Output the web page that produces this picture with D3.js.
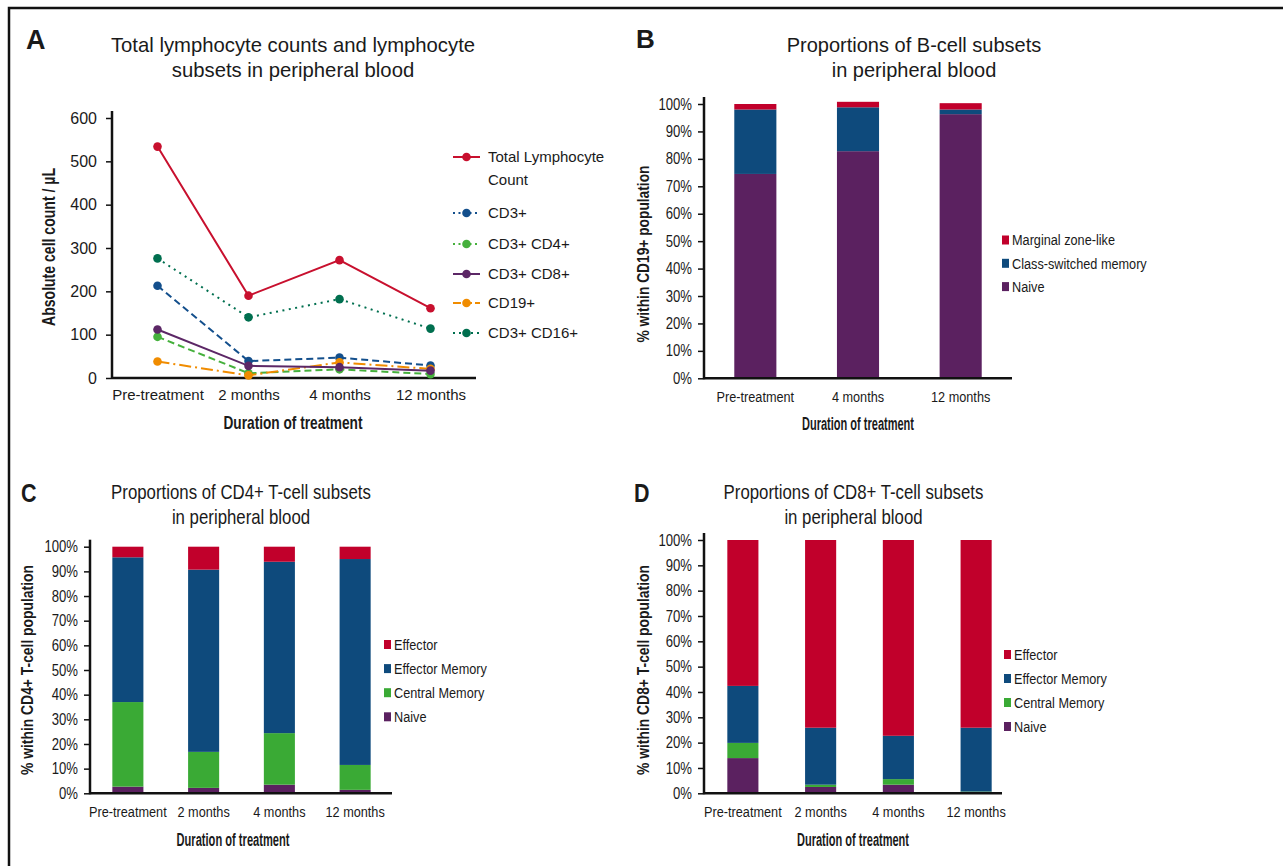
<html>
<head>
<meta charset="utf-8">
<style>
  html, body { margin: 0; padding: 0; background: #ffffff; }
  svg { display: block; }
  text { fill: #1a1a1a; }
  .reg, .nar { font-family: "Liberation Sans", Arial, sans-serif; }
  .axis path, .axis line { stroke: #111; }
</style>
</head>
<body>
<svg id="chart" width="1283" height="866"></svg>

<script src="https://cdnjs.cloudflare.com/ajax/libs/d3/7.8.5/d3.min.js"></script>
<script>
// ---- data: panel A (absolute counts / uL)
var catsA = ["Pre-treatment", "2 months", "4 months", "12 months"];
var totalLymph = [534, 190, 272, 161];
var cd3 = [213, 39, 47, 29];
var cd3cd4 = [95, 11, 20, 9];
var cd3cd8 = [112, 28, 25, 17];
var cd19 = [38, 6, 36, 21];
var cd3cd16 = [276, 140, 182, 114];
var ticksA = [0, 100, 200, 300, 400, 500, 600];

// ---- data: panel B (B-cell subsets, %)
var catsB = ["Pre-treatment", "4 months", "12 months"];
var bNaive = [74.5, 82.8, 96.3];
var bSwitched = [23.5, 16.0, 1.7];
var bMarginal = [2.0, 2.0, 2.3];

// ---- data: panel C (CD4+ subsets, %)
var catsC = ["Pre-treatment", "2 months", "4 months", "12 months"];
var cNaive = [2.7, 2.2, 3.5, 1.4];
var cCentral = [34.3, 14.6, 20.9, 10.1];
var cEffMem = [58.7, 73.9, 69.5, 83.5];
var cEffector = [4.3, 9.3, 6.1, 5.0];

// ---- data: panel D (CD8+ subsets, %)
var catsD = ["Pre-treatment", "2 months", "4 months", "12 months"];
var dNaive = [13.9, 2.5, 3.4, 0.2];
var dCentral = [6.0, 0.9, 2.2, 0.5];
var dEffMem = [22.5, 22.5, 17.1, 25.2];
var dEffector = [57.6, 74.1, 77.3, 74.1];

var pctTicks = [0, 10, 20, 30, 40, 50, 60, 70, 80, 90, 100];

var RED = "#c1002b", BLUE = "#0e4a7c", GREEN = "#3aaa35", PURPLE = "#5b2160";
var NARROW = 0.82;

var svg = d3.select("#chart");

// no narrow face installed: squeeze text horizontally around its anchor
function condense(sel, f) {
    sel.each(function () {
        var t = d3.select(this);
        var x = +t.attr("x") || 0, y = +t.attr("y") || 0;
        t.attr("transform", "translate(" + x + "," + y + ") scale(" + f + ",1) translate(" + (-x) + "," + (-y) + ")");
    });
}

// frame (top + left only)
svg.append("path")
    .attr("d", "M9,866V8H1283")
    .attr("fill", "none")
    .attr("stroke", "#111")
    .attr("stroke-width", 2.5);

function letter(t, x, y, size, f) {
    var el = svg.append("text").attr("class", "reg")
        .attr("x", x).attr("y", y)
        .style("font-size", size + "px").style("font-weight", "bold")
        .text(t);
    if (f) condense(el, f);
}

function title(lines, x, y, size, f) {
    lines.forEach(function (l, i) {
        var el = svg.append("text").attr("class", "reg")
            .attr("x", x).attr("y", y + i * 25)
            .attr("text-anchor", "middle")
            .style("font-size", size + "px")
            .text(l);
        if (f) condense(el, f);
    });
}

function yAxis(scale, x, ticks, fmt, size, f, topExt, pad) {
    var g = svg.append("g").attr("class", "axis")
        .attr("transform", "translate(" + x + ",0)")
        .call(d3.axisLeft(scale).tickValues(ticks).tickFormat(fmt).tickSize(6).tickPadding(pad).tickSizeOuter(0));
    g.select(".domain").remove();
    g.selectAll(".tick line").attr("stroke-width", 1.5);
    var tt = g.selectAll(".tick text").attr("class", "reg").style("font-size", size + "px").attr("fill", "#1a1a1a");
    if (f) condense(tt, f);
    var r = scale.range();
    g.append("line").attr("x1", 0).attr("x2", 0)
        .attr("y1", r[1] - topExt).attr("y2", r[0] + 1)
        .attr("stroke", "#111").attr("stroke-width", 2.5);
}

function xAxis(scale, y, x0, x1, size, f, dy) {
    var g = svg.append("g").attr("class", "axis")
        .attr("transform", "translate(0," + y + ")")
        .call(d3.axisBottom(scale).tickSize(0).tickPadding(dy));
    g.select(".domain").remove();
    var tt = g.selectAll(".tick text").attr("class", "reg").style("font-size", size + "px").attr("fill", "#1a1a1a");
    if (f) condense(tt, f);
    g.append("line").attr("x1", x0).attr("x2", x1)
        .attr("y1", 0).attr("y2", 0)
        .attr("stroke", "#111").attr("stroke-width", 2.5);
}

function axisTitle(t, x, y, size, len, rotate) {
    var el = svg.append("text").attr("class", "nar")
        .attr("text-anchor", "middle")
        .style("font-size", size + "px").style("font-weight", "bold")
        .attr("textLength", len).attr("lengthAdjust", "spacingAndGlyphs")
        .text(t);
    if (rotate) el.attr("transform", "translate(" + x + "," + y + ") rotate(-90)");
    else el.attr("x", x).attr("y", y);
}

//----------- PANEL A ------------//
letter("A", 26, 49, 27);
title(["Total lymphocyte counts and lymphocyte", "subsets in peripheral blood"], 293, 52, 20.3);

var xA = d3.scalePoint().domain(catsA).range([112, 476]).padding(0.5);
var yA = d3.scaleLinear().domain([0, 600]).range([378, 118]);

yAxis(yA, 112, ticksA, d3.format("d"), 16, null, 7, 9);
xAxis(xA, 378, 112, 476, 15, null, 11);
axisTitle("Duration of treatment", 293, 429, 18.5, 139, false);
axisTitle("Absolute cell count / µL", 55, 247, 19, 158, true);

var seriesA = [
    { name: "CD3+ CD16+", values: cd3cd16, color: "#006f4f", dash: "2,4.5", ldash: "2,4", legend: ["CD3+ CD16+"], ly: 333 },
    { name: "CD3+", values: cd3, color: "#134f8c", dash: "7,4", ldash: "2,3.5", legend: ["CD3+"], ly: 213 },
    { name: "CD3+ CD4+", values: cd3cd4, color: "#45b03c", dash: "7,4", ldash: "2,3.5", legend: ["CD3+ CD4+"], ly: 244 },
    { name: "CD19+", values: cd19, color: "#f08c00", dash: "12,4,2,4", ldash: "8,3", legend: ["CD19+"], ly: 303 },
    { name: "CD3+ CD8+", values: cd3cd8, color: "#5c2766", dash: null, ldash: null, legend: ["CD3+ CD8+"], ly: 274 },
    { name: "Total Lymphocyte Count", values: totalLymph, color: "#c8102e", dash: null, ldash: null, legend: ["Total Lymphocyte", "Count"], ly: 157 }
];

var line = d3.line()
    .x(function (d, i) { return xA(catsA[i]); })
    .y(function (d) { return yA(d); });

seriesA.forEach(function (s) {
    svg.append("path")
        .attr("d", line(s.values))
        .attr("fill", "none")
        .attr("stroke", s.color)
        .attr("stroke-width", 2)
        .attr("stroke-dasharray", s.dash);
    svg.selectAll(null).data(s.values).enter().append("circle")
        .attr("cx", function (d, i) { return xA(catsA[i]); })
        .attr("cy", function (d) { return yA(d); })
        .attr("r", 4.3)
        .attr("fill", s.color);

    // legend entry
    svg.append("line")
        .attr("x1", 453).attr("x2", 480)
        .attr("y1", s.ly).attr("y2", s.ly)
        .attr("stroke", s.color).attr("stroke-width", 2)
        .attr("stroke-dasharray", s.ldash);
    svg.append("circle").attr("cx", 466.5).attr("cy", s.ly).attr("r", 4.3).attr("fill", s.color);
    s.legend.forEach(function (t, i) {
        svg.append("text").attr("class", "reg")
            .attr("x", 488).attr("y", s.ly + 5 + i * 23)
            .style("font-size", "15px")
            .text(t);
    });
});

//----------- STACKED PANELS ------------//
function stackedPanel(cfg) {
    var rows = cfg.cats.map(function (c, i) {
        var r = { cat: c };
        cfg.series.forEach(function (s) { r[s.key] = s.values[i]; });
        return r;
    });
    var keys = cfg.series.map(function (s) { return s.key; });
    var stacked = d3.stack().keys(keys)(rows);

    var x = d3.scaleBand().domain(cfg.cats).range([cfg.x0, cfg.x1]).paddingInner(cfg.pad).paddingOuter(cfg.pad / 2);
    var y = d3.scaleLinear().domain([0, 100]).range([cfg.y0, cfg.y100]);

    stacked.forEach(function (layer, li) {
        svg.selectAll(null).data(layer).enter().append("rect")
            .attr("x", function (d) { return x(d.data.cat); })
            .attr("width", x.bandwidth())
            .attr("y", function (d) { return y(d[1]); })
            .attr("height", function (d) { return y(d[0]) - y(d[1]); })
            .attr("fill", cfg.series[li].color);
    });

    yAxis(y, cfg.x0, pctTicks, function (d) { return d + "%"; }, 16, NARROW, cfg.topExt, 6);
    xAxis(x, cfg.y0, cfg.x0, cfg.axisEnd, 15.5, NARROW, 12.5);

    // legend, top entry is the last stacked series
    var legendOrder = cfg.series.slice().reverse();
    legendOrder.forEach(function (s, i) {
        var ly = cfg.legendY + i * cfg.legendStep;
        svg.append("rect")
            .attr("x", cfg.legendX).attr("y", ly - 4.5)
            .attr("width", 7).attr("height", 9)
            .attr("fill", s.color);
        var el = svg.append("text").attr("class", "reg")
            .attr("x", cfg.legendX + 10).attr("y", ly + 5.5)
            .style("font-size", "15.5px")
            .text(s.label);
        condense(el, NARROW);
    });
}

//----------- PANEL B ------------//
letter("B", 636, 48, 26);
title(["Proportions of B-cell subsets", "in peripheral blood"], 914, 52, 20);
stackedPanel({
    cats: catsB,
    series: [
        { key: "naive", label: "Naive", values: bNaive, color: PURPLE },
        { key: "switched", label: "Class-switched memory", values: bSwitched, color: BLUE },
        { key: "marginal", label: "Marginal zone-like", values: bMarginal, color: RED }
    ],
    x0: 704, x1: 1012, axisEnd: 1012, pad: 0.59,
    y0: 378.3, y100: 104, topExt: 7,
    legendX: 1002, legendY: 240, legendStep: 23.3
});
axisTitle("Duration of treatment", 858, 430, 17.5, 112, false);
axisTitle("% within CD19+ population", 649, 254, 17, 177, true);

//----------- PANEL C ------------//
letter("C", 21, 502, 25, 0.86);
title(["Proportions of CD4+ T-cell subsets", "in peripheral blood"], 241, 499, 20.5, NARROW);
stackedPanel({
    cats: catsC,
    series: [
        { key: "naive", label: "Naive", values: cNaive, color: PURPLE },
        { key: "central", label: "Central Memory", values: cCentral, color: GREEN },
        { key: "effmem", label: "Effector Memory", values: cEffMem, color: BLUE },
        { key: "effector", label: "Effector", values: cEffector, color: RED }
    ],
    x0: 90, x1: 393, axisEnd: 392, pad: 0.59,
    y0: 793.3, y100: 546.7, topExt: 7,
    legendX: 384, legendY: 644.5, legendStep: 24.1
});
axisTitle("Duration of treatment", 233, 846, 17.5, 113, false);
axisTitle("% within CD4+ T-cell population", 33, 670, 17, 210, true);

//----------- PANEL D ------------//
letter("D", 634, 502, 25, 0.86);
title(["Proportions of CD8+ T-cell subsets", "in peripheral blood"], 853.5, 499, 20.5, NARROW);
stackedPanel({
    cats: catsD,
    series: [
        { key: "naive", label: "Naive", values: dNaive, color: PURPLE },
        { key: "central", label: "Central Memory", values: dCentral, color: GREEN },
        { key: "effmem", label: "Effector Memory", values: dEffMem, color: BLUE },
        { key: "effector", label: "Effector", values: dEffector, color: RED }
    ],
    x0: 704, x1: 1015, axisEnd: 1002, pad: 0.6,
    y0: 793.3, y100: 540, topExt: 7,
    legendX: 1004, legendY: 654.5, legendStep: 24
});
axisTitle("Duration of treatment", 853, 846, 17.5, 112, false);
axisTitle("% within CD8+ T-cell population", 649, 670, 17, 210, true);
</script>
</body>
</html>
